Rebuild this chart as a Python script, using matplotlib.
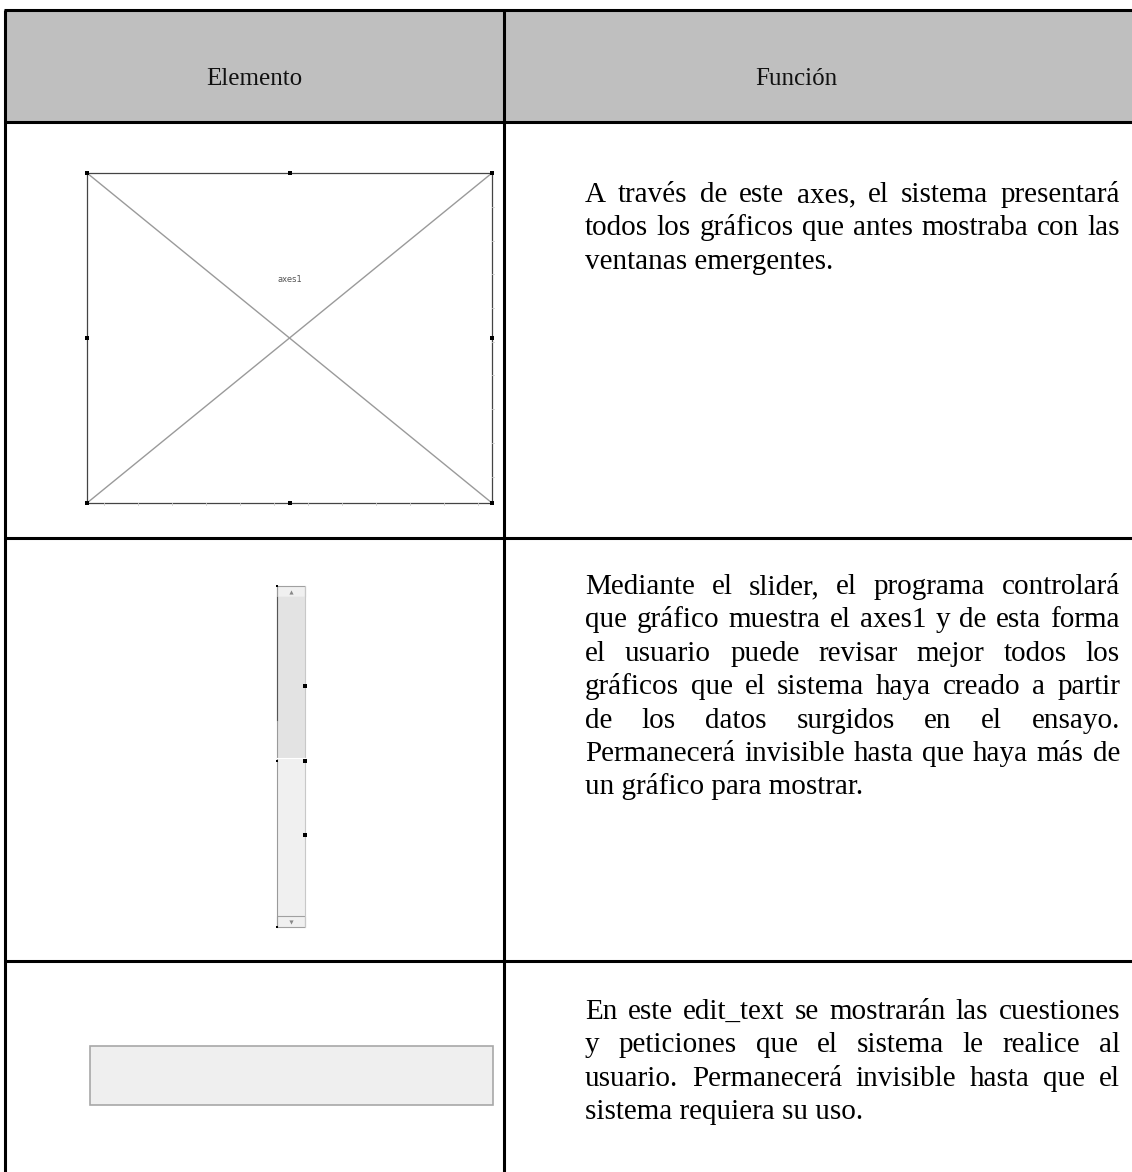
import numpy as np
import matplotlib
matplotlib.use("Agg")
from matplotlib import pyplot as plt
from matplotlib.patches import Rectangle

# table content
headers = ["Elemento", "Función"]
row1_lines = ["A través de este axes, el sistema presentará",
              "todos los gráficos que antes mostraba con las",
              "ventanas emergentes."]
row2_lines = ["Mediante el slider, el programa controlará",
              "que gráfico muestra el axes1 y de esta forma",
              "el usuario puede revisar mejor todos los",
              "gráficos que el sistema haya creado a partir",
              "de los datos surgidos en el ensayo.",
              "Permanecerá invisible hasta que haya más de",
              "un gráfico para mostrar."]
row3_lines = ["En este edit_text se mostrarán las cuestiones",
              "y peticiones que el sistema le realice al",
              "usuario. Permanecerá invisible hasta que el",
              "sistema requiera su uso."]
row_texts = [row1_lines, row2_lines, row3_lines]

W, H = 1132, 1172
fig = plt.figure(figsize=(W / 100, H / 100), dpi=100)
ax = fig.add_axes([0, 0, 1, 1])
ax.set_xlim(0, W)
ax.set_ylim(H, 0)
ax.axis("off")

serif = "Liberation Serif"
fs_body = 21
fs_head = 18
line_w = 2.2

# grid geometry (pixels)
left, col_x, right = 5, 503.5, W
top, head_bot = 10, 122.3
row_bounds = [head_bot, 538, 960.7, H]

# header background
ax.add_patch(Rectangle((left, top), right - left, head_bot - top,
                       facecolor="#bfbfbf", edgecolor="none"))
# lines
for y in [top, head_bot, row_bounds[1], row_bounds[2]]:
    ax.plot([left - 1, right], [y, y], color="black", lw=line_w, solid_capstyle="butt")
ax.plot([left, left], [top, H], color="black", lw=line_w, solid_capstyle="butt")
ax.plot([col_x, col_x], [top, H], color="black", lw=line_w, solid_capstyle="butt")

# header text
ax.text((left + col_x) / 2, 85, headers[0], family=serif, fontsize=fs_head,
        ha="center", va="baseline", color="#111111")
ax.text(796, 85, headers[1], family=serif, fontsize=fs_head,
        ha="center", va="baseline", color="#111111")

# justified text
fig.canvas.draw()
renderer = fig.canvas.get_renderer()
tx0, tx1 = 585, 1120


def put_line(line, y, justify):
    if not justify:
        ax.text(tx0, y, line, family=serif, fontsize=fs_body, ha="left",
                va="baseline", color="black")
        return
    words = line.split(" ")
    txts = [ax.text(tx0, y, w, family=serif, fontsize=fs_body, ha="left",
                    va="baseline", color="black") for w in words]
    widths = [t.get_window_extent(renderer).width for t in txts]
    gap = (tx1 - tx0 - sum(widths)) / (len(words) - 1)
    x = tx0
    for t, w in zip(txts, widths):
        t.set_x(x)
        x += w + gap


row_baselines = [202, 594, 1019]
spacing = 33.4
for lines, y0 in zip(row_texts, row_baselines):
    for i, line in enumerate(lines):
        put_line(line, y0 + i * spacing, i < len(lines) - 1)

# --- element 1: axes placeholder
bx0, bx1, by0, by1 = 87, 492, 173, 503
ax.add_patch(Rectangle((bx0, by0), bx1 - bx0, by1 - by0, facecolor="white",
                       edgecolor="#444444", lw=0.9))
ax.plot([bx0, bx1], [by0, by1], color="#9a9a9a", lw=1.0)
ax.plot([bx0, bx1], [by1, by0], color="#9a9a9a", lw=1.0)
for ty in np.arange(by0 + 34, by1, 33.7):
    ax.plot([bx1, bx1 + 2], [ty, ty], color="#cfcfcf", lw=0.6)
for tx in np.arange(bx0 + 17, bx1, 34):
    ax.plot([tx, tx], [by1, by1 + 2], color="#cfcfcf", lw=0.6)
hx = [bx0, (bx0 + bx1) / 2, bx1]
hy = [by0, (by0 + by1) / 2, by1]
for x in hx:
    for y in hy:
        if x == hx[1] and y == hy[1]:
            continue
        ax.plot(x, y, marker="s", ms=2.2, color="black", mew=0)
ax.text((bx0 + bx1) / 2, 280, "axes1", family="DejaVu Sans", fontsize=6,
        ha="center", va="center", color="#555555")

# --- element 2: slider
sx0, sx1, sy0, sy1 = 277, 305, 586, 927
ax.add_patch(Rectangle((sx0, sy0), sx1 - sx0, 11, facecolor="#f0f0f0",
                       edgecolor="#a0a0a0", lw=0.8))
ax.add_patch(Rectangle((sx0, sy0 + 11), sx1 - sx0, 758 - sy0 - 11,
                       facecolor="#e3e3e3", edgecolor="none"))
ax.add_patch(Rectangle((sx0, 758), sx1 - sx0, sy1 - 11 - 758,
                       facecolor="#f0f0f0", edgecolor="none"))
ax.add_patch(Rectangle((sx0, sy1 - 11), sx1 - sx0, 11, facecolor="#f0f0f0",
                       edgecolor="#a0a0a0", lw=0.8))
ax.plot([sx0, sx0], [sy0, sy1], color="#9a9a9a", lw=0.8)
ax.plot([sx0, sx0], [sy0 + 11, 720], color="#555555", lw=0.8)
ax.plot([sx1, sx1], [sy0, sy1], color="#c8c8c8", lw=0.8)
ax.plot([sx0, sx1], [758, 758], color="white", lw=0.8)
ax.plot((sx0 + sx1) / 2, sy0 + 5.5, marker="^", ms=3, color="#888888", mew=0)
ax.plot((sx0 + sx1) / 2, sy1 - 5.5, marker="v", ms=3, color="#888888", mew=0)
for y in [sy0, (sy0 + sy1) / 2 + 4, sy1]:
    ax.plot(sx0, y, marker="s", ms=1.8, color="black", mew=0)
for y in [686, 761, 835]:
    ax.plot(sx1, y, marker="s", ms=2.2, color="black", mew=0)

# --- element 3: edit box
ax.add_patch(Rectangle((90, 1046), 493 - 90, 1105 - 1046, facecolor="#efefef",
                       edgecolor="#a8a8a8", lw=1.2))

fig.savefig("out.png", dpi=100)
